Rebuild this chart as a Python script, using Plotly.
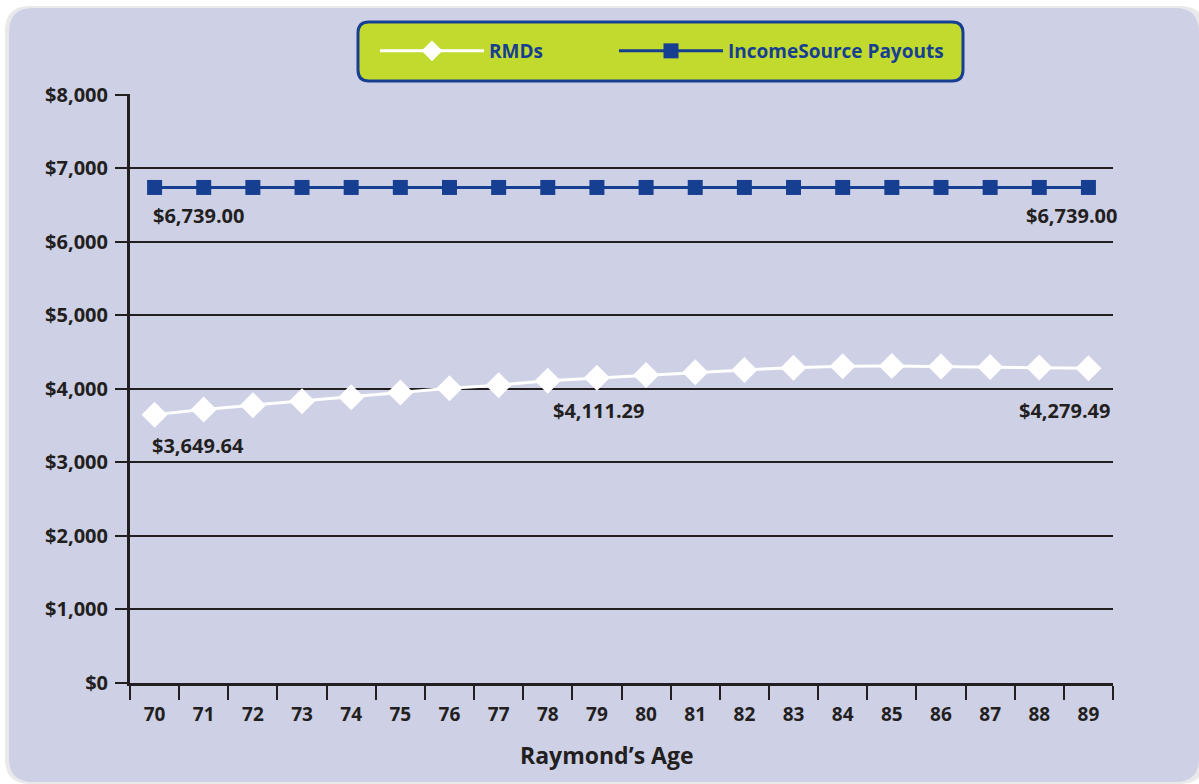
import plotly.graph_objects as go

# ---------------- data ----------------
ages = [str(a) for a in range(70, 90)]
rmds = [3649.64, 3719, 3778, 3833, 3887, 3950, 4009, 4050, 4111.29, 4150,
        4190, 4226, 4258, 4288, 4308, 4310, 4303, 4296, 4290, 4279.49]
income = [6739.00] * 20
y_ticks = [0, 1000, 2000, 3000, 4000, 5000, 6000, 7000, 8000]
y_tick_text = [f"${v:,}" for v in y_ticks]
x_title = "Raymond’s Age"

# which points get a value label: (index, xanchor, xshift, yshift)
rmd_labels = [(0, "left", -5, -31), (8, "left", 3, -30), (19, "right", 24, -42)]
inc_labels = [(0, "left", -4, -28), (19, "right", 31, -28)]

# ---------------- style ----------------
W, H = 1199, 784
ML, MR, MT, MB = 130, 86, 94, 101
PW, PH = W - ML - MR, H - MT - MB
BG = "#CED0E6"
LIME = "#C2D92E"
NAVY = "#173F91"
DARK = "#231F20"
FONT = "Open Sans"


def px2paper(px, py):
    return (px - ML) / PW, (H - MB - py) / PH


def rrect(x0, y0, x1, y1, r):
    """rounded rectangle path in paper coords from pixel coords"""
    def P(x, y):
        a, b = px2paper(x, y)
        return f"{a:.5f},{b:.5f}"
    return (f"M{P(x0 + r, y0)} L{P(x1 - r, y0)} Q{P(x1, y0)} {P(x1, y0 + r)} "
            f"L{P(x1, y1 - r)} Q{P(x1, y1)} {P(x1 - r, y1)} "
            f"L{P(x0 + r, y1)} Q{P(x0, y1)} {P(x0, y1 - r)} "
            f"L{P(x0, y0 + r)} Q{P(x0, y0)} {P(x0 + r, y0)} Z")


fig = go.Figure()

fig.add_trace(go.Scatter(
    x=ages, y=rmds, name="RMDs", mode="lines+markers", legend="legend",
    line=dict(color="white", width=3),
    marker=dict(symbol="diamond", size=20, color="white", line=dict(width=0)),
))
fig.add_trace(go.Scatter(
    x=ages, y=income, name="IncomeSource Payouts", mode="lines+markers",
    legend="legend2",
    line=dict(color=NAVY, width=3),
    marker=dict(symbol="square", size=15, color=NAVY, line=dict(width=0)),
))

label_font = dict(family=FONT, size=20, color=DARK, weight="bold")
annotations = []
for series, specs in ((rmds, rmd_labels), (income, inc_labels)):
    for idx, xa, xs, ys in specs:
        annotations.append(dict(
            x=idx, y=series[idx], xref="x", yref="y",
            text=f"${series[idx]:,.2f}", showarrow=False,
            xanchor=xa, yanchor="middle", xshift=xs, yshift=ys,
            font=label_font))

tx, ty = px2paper(607, 755)
annotations.append(dict(
    x=tx, y=ty, xref="paper", yref="paper", text=x_title, showarrow=False,
    xanchor="center", yanchor="middle",
    font=dict(family=FONT, size=23, color=DARK, weight="bold")))

shapes = [
    dict(type="path", xref="paper", yref="paper", layer="below",
         path=rrect(5, 6, 1205, 784, 25), fillcolor="#E9E9EC",
         line=dict(width=0)),
    dict(type="path", xref="paper", yref="paper", layer="below",
         path=rrect(9, 8, 1199, 782, 24), fillcolor=BG,
         line=dict(width=0)),
    dict(type="path", xref="paper", yref="paper", layer="below",
         path=rrect(358, 22, 963, 81, 11), fillcolor=LIME,
         line=dict(width=3, color=NAVY)),
]

l1x, ly = px2paper(375, 51)
l2x, _ = px2paper(614, 51)
legend_font = dict(family=FONT, size=19, color=NAVY, weight="bold")

fig.update_layout(
    width=W, height=H,
    margin=dict(l=ML, r=MR, t=MT, b=MB, pad=0),
    paper_bgcolor="white",
    plot_bgcolor="rgba(0,0,0,0)",
    font=dict(family=FONT, color=DARK),
    showlegend=True,
    legend=dict(orientation="h", x=l1x, y=ly, xanchor="left",
                yanchor="middle", bgcolor="rgba(0,0,0,0)",
                font=legend_font, itemwidth=104),
    legend2=dict(orientation="h", x=l2x, y=ly, xanchor="left",
                 yanchor="middle", bgcolor="rgba(0,0,0,0)",
                 font=legend_font, itemwidth=104),
    shapes=shapes,
    annotations=annotations,
)

fig.update_xaxes(
    type="category", categoryorder="array", categoryarray=ages,
    range=[-0.5, len(ages) - 0.5], autorange=False,
    showgrid=False, showline=True, linecolor=DARK, linewidth=3,
    ticks="outside", tickson="boundaries", ticklen=14, tickwidth=2,
    tickcolor=DARK, ticklabelstandoff=12, tickangle=0,
    tickfont=dict(family=FONT, size=19, color=DARK, weight="bold"),
    zeroline=False, fixedrange=True,
)
fig.update_yaxes(
    range=[0, 8010], autorange=False, tickvals=y_ticks, ticktext=y_tick_text,
    showgrid=True, gridcolor=DARK, gridwidth=2,
    showline=True, linecolor=DARK, linewidth=3,
    ticks="outside", ticklen=12, tickwidth=2, tickcolor=DARK,
    ticklabelstandoff=3,
    tickfont=dict(family=FONT, size=20, color=DARK, weight="bold"),
    zeroline=False, fixedrange=True,
)

fig.write_html("out.html")
